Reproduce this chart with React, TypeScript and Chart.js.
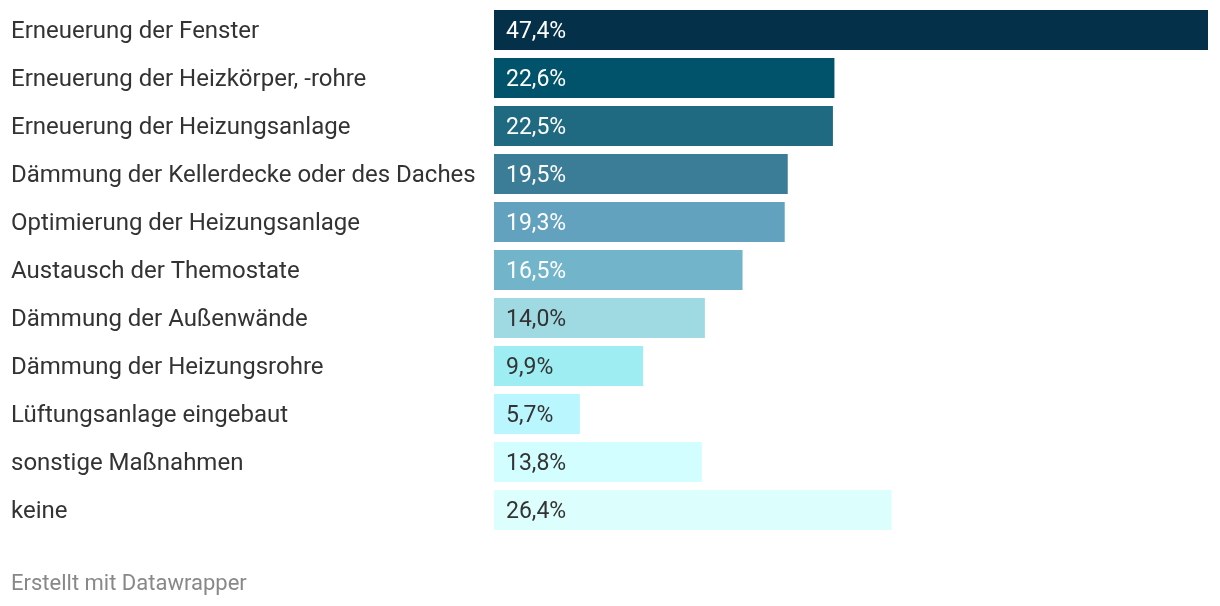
import React, { useEffect, useRef } from "react";
import { Chart, registerables } from "chart.js";

Chart.register(...registerables);

const categories = [
  "Erneuerung der Fenster",
  "Erneuerung der Heizkörper, -rohre",
  "Erneuerung der Heizungsanlage",
  "Dämmung der Kellerdecke oder des Daches",
  "Optimierung der Heizungsanlage",
  "Austausch der Themostate",
  "Dämmung der Außenwände",
  "Dämmung der Heizungsrohre",
  "Lüftungsanlage eingebaut",
  "sonstige Maßnahmen",
  "keine",
];

const values = [47.4, 22.6, 22.5, 19.5, 19.3, 16.5, 14.0, 9.9, 5.7, 13.8, 26.4];

const barColors = [
  "#05304a",
  "#00536b",
  "#206a81",
  "#3b7c96",
  "#62a2bf",
  "#72b5ca",
  "#9fd9e2",
  "#9eedf2",
  "#baf6fd",
  "#d3feff",
  "#dcfffd",
];

const labelColors = [
  "#ffffff",
  "#ffffff",
  "#ffffff",
  "#ffffff",
  "#ffffff",
  "#ffffff",
  "#333333",
  "#333333",
  "#333333",
  "#333333",
  "#333333",
];

const footerText = "Erstellt mit Datawrapper";

const valueLabelPlugin = {
  id: "valueLabels",
  afterDatasetsDraw(chart: any) {
    const ctx = chart.ctx;
    const meta = chart.getDatasetMeta(0);
    ctx.save();
    ctx.font = "23px Roboto";
    ctx.textAlign = "left";
    ctx.textBaseline = "middle";
    meta.data.forEach((bar: any, i: number) => {
      const v = values[i];
      ctx.fillStyle = labelColors[i];
      const txt = v.toFixed(1).replace(".", ",") + "%";
      ctx.fillText(txt, bar.base + 12, bar.y + 2);
    });
    ctx.restore();
  },
};

export default function App() {
  const canvasRef = useRef<HTMLCanvasElement | null>(null);

  useEffect(() => {
    if (!canvasRef.current) return;
    Chart.defaults.font.family = "Roboto";
    const chart = new Chart(canvasRef.current, {
      type: "bar",
      data: {
        labels: categories,
        datasets: [
          {
            data: values,
            backgroundColor: barColors,
            borderWidth: 0,
            barPercentage: 40 / 48,
            categoryPercentage: 1,
          },
        ],
      },
      options: {
        indexAxis: "y",
        responsive: false,
        animation: false,
        maintainAspectRatio: false,
        layout: { autoPadding: false, padding: { left: 11, right: 12, top: 6, bottom: 72 } },
        plugins: {
          legend: { display: false },
          tooltip: { enabled: false },
        },
        scales: {
          x: {
            display: false,
            min: 0,
            max: 47.4,
          },
          y: {
            grid: { display: false },
            border: { display: false },
            ticks: {
              crossAlign: "far",
              color: "#333333",
              font: { size: 24, family: "Roboto" },
              padding: 0,
              labelOffset: 2,
            },
            afterFit(scale: any) {
              scale.width = 494 - 11;
              scale.paddingTop = 0;
              scale.paddingBottom = 0;
            },
          },
        },
      },
      plugins: [valueLabelPlugin],
    } as any);
    return () => chart.destroy();
  }, []);

  return (
    <div style={{ position: "fixed", left: 0, top: 0, width: 1220, height: 606, background: "#fff" }}>
      <canvas ref={canvasRef} width={1220} height={606} style={{ width: 1220, height: 606, display: "block" }} />
      <div
        style={{
          position: "absolute",
          left: 11,
          top: 569,
          fontFamily: "Roboto",
          fontSize: 22,
          color: "#888888",
          lineHeight: "28px",
          whiteSpace: "nowrap",
        }}
      >
        {footerText}
      </div>
    </div>
  );
}
